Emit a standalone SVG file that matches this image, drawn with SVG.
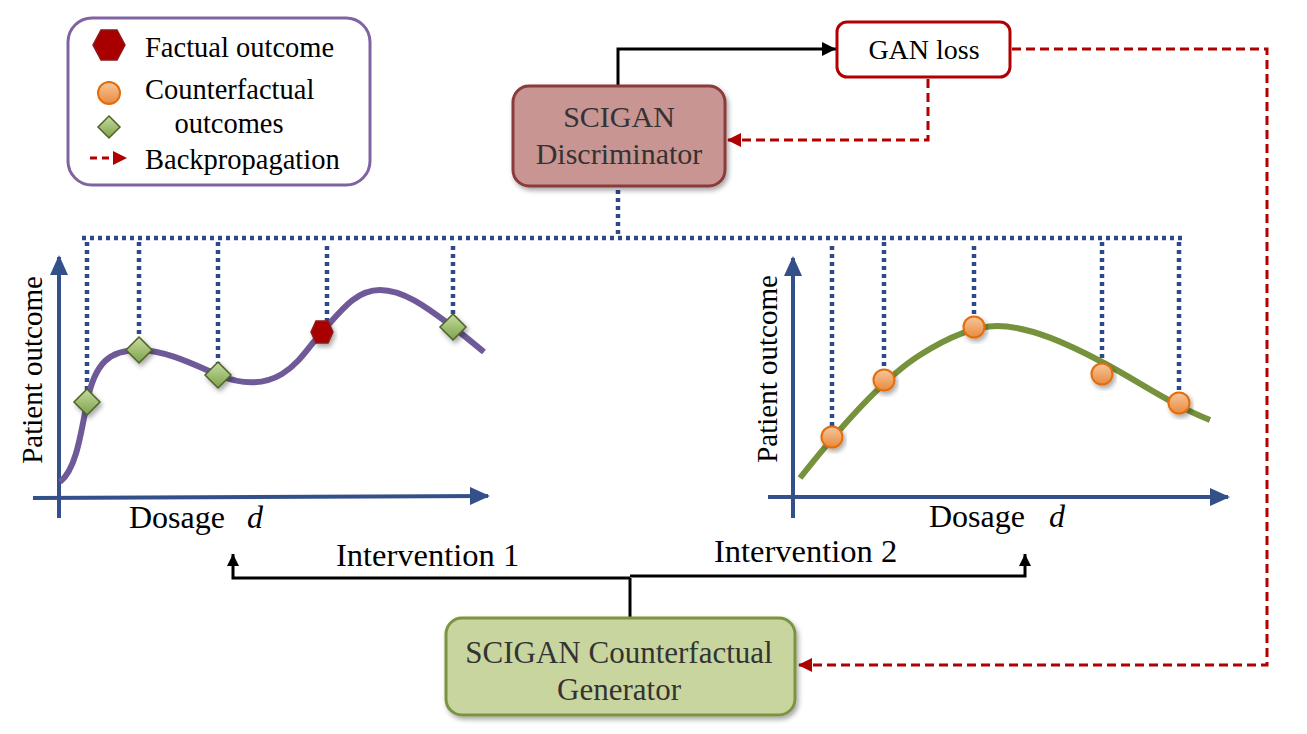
<svg xmlns="http://www.w3.org/2000/svg" width="1307" height="734" viewBox="0 0 1307 734">
<style>
.t{font-family:"Liberation Serif","Times New Roman",serif;fill:#000}
.bt{font-family:"Liberation Serif","Times New Roman",serif;fill:#333;text-anchor:middle}
.dot{fill:none;stroke:#2c4a85;stroke-width:4.5;stroke-dasharray:4 4}
.red{fill:none;stroke:#b00000;stroke-width:3;stroke-dasharray:9 5}
.blk{fill:none;stroke:#000;stroke-width:3}
.axis{fill:none;stroke:#34508a;stroke-width:4}
.dia{fill:url(#gDia);stroke:#4f6228;stroke-width:1.5}
.orc{fill:url(#gOr);stroke:#e46c0a;stroke-width:2}
.hex{fill:#a80000;stroke:#8b1a1a;stroke-width:1.5}
</style>
<defs>
<linearGradient id="gDia" x1="0" y1="0" x2="0" y2="1"><stop offset="0" stop-color="#c5dca0"/><stop offset="1" stop-color="#7ea24a"/></linearGradient>
<linearGradient id="gOr" x1="0" y1="0" x2="0" y2="1"><stop offset="0" stop-color="#f6c79e"/><stop offset="1" stop-color="#e88a3c"/></linearGradient>
<filter id="sh" x="-10%" y="-10%" width="130%" height="140%"><feDropShadow dx="2" dy="3" stdDeviation="2.5" flood-color="#000" flood-opacity="0.35"/></filter>
<marker id="aBlk" markerUnits="userSpaceOnUse" markerWidth="16" markerHeight="14" refX="14" refY="7" orient="auto"><path d="M0,0 L14,7 L0,14 z" fill="#000"/></marker>
<marker id="aBlkS" markerUnits="userSpaceOnUse" markerWidth="14" markerHeight="14" refX="12" refY="6" orient="auto"><path d="M0,0 L12,6 L0,12 z" fill="#000"/></marker>
<marker id="aRed" markerUnits="userSpaceOnUse" markerWidth="16" markerHeight="14" refX="13" refY="7" orient="auto"><path d="M0,0 L14,7 L0,14 z" fill="#b00000"/></marker>
<marker id="aAx" markerUnits="userSpaceOnUse" markerWidth="22" markerHeight="20" refX="18" refY="9" orient="auto"><path d="M0,0 L20,9 L0,18 z" fill="#34508a"/></marker>
</defs>

<g id="legend">
<rect x="68" y="18" width="302" height="167" rx="24" fill="#fff" stroke="#8064a2" stroke-width="3"/>
<polygon class="hex" points="93,45 101,30 117,30 125,45 117,60 101,60"/>
<circle class="orc" cx="109" cy="93" r="11"/>
<polygon class="dia" points="109,116 120,127 109,138 98,127"/>
<line x1="90" y1="158" x2="114" y2="158" stroke="#b00000" stroke-width="3" stroke-dasharray="7 5"/>
<path d="M113,151 L127,158 L113,165 z" fill="#b00000"/>
<text class="t" x="145" y="57" font-size="28.5">Factual outcome</text>
<text class="t" x="145" y="99" font-size="28.5">Counterfactual</text>
<text class="t" x="229" y="133" font-size="28.5" text-anchor="middle">outcomes</text>
<text class="t" x="145" y="169" font-size="28.5">Backpropagation</text>
</g>

<g id="connectors">
<polyline class="blk" points="618,86 618,49 836,49" marker-end="url(#aBlk)"/>
<polyline class="red" points="928,79 928,140 728,140" marker-end="url(#aRed)"/>
<polyline class="red" points="1012,49 1267,49 1267,665 799,665" marker-end="url(#aRed)"/>
<line class="blk" x1="630" y1="578" x2="630" y2="617"/>
<polyline class="blk" points="630,578 233,578 233,554" marker-end="url(#aBlkS)"/>
<polyline class="blk" points="630,576 1025,576 1025,554" marker-end="url(#aBlkS)"/>
<polyline class="dot" points="618,190 618,237"/>
<line class="dot" x1="82" y1="238" x2="1182" y2="238"/>
<line class="dot" x1="87" y1="242" x2="87" y2="390"/>
<line class="dot" x1="139" y1="242" x2="139" y2="340"/>
<line class="dot" x1="218" y1="242" x2="218" y2="363"/>
<line class="dot" x1="327" y1="246" x2="327" y2="322"/>
<line class="dot" x1="453" y1="246" x2="453" y2="316"/>
<line class="dot" x1="832" y1="246" x2="832" y2="427"/>
<line class="dot" x1="884" y1="242" x2="884" y2="370"/>
<line class="dot" x1="974" y1="246" x2="974" y2="316"/>
<line class="dot" x1="1102" y1="242" x2="1102" y2="363"/>
<line class="dot" x1="1179" y1="242" x2="1179" y2="392"/>
</g>

<g id="gan-loss">
<rect x="837" y="22" width="173" height="55" rx="10" fill="#fff" stroke="#b00000" stroke-width="3"/>
<text class="t" x="924" y="59" font-size="28" text-anchor="middle">GAN loss</text>
</g>

<g id="discriminator">
<rect x="513" y="86" width="212" height="100" rx="16" fill="#c89593" stroke="#8b3a3a" stroke-width="3" filter="url(#sh)"/>
<text class="bt" x="619" y="127" font-size="30">SCIGAN</text>
<text class="bt" x="619" y="164" font-size="30">Discriminator</text>
</g>

<g id="generator">
<rect x="446" y="618" width="349" height="97" rx="16" fill="#c8d59e" stroke="#7a9441" stroke-width="3" filter="url(#sh)"/>
<text class="bt" x="619" y="663" font-size="31">SCIGAN Counterfactual</text>
<text class="bt" x="619" y="700" font-size="31">Generator</text>
</g>

<g id="plot-intervention-1">
<line class="axis" x1="59" y1="518" x2="59" y2="257" marker-end="url(#aAx)"/>
<line class="axis" x1="33" y1="498" x2="488" y2="496" marker-end="url(#aAx)"/>
<path d="M60,482 C75,470 80,440 87,402 C95,362 110,350 139,350 C165,350 195,365 218,375 C240,384 262,386 282,374 C300,363 310,345 322,332 C340,312 355,290 380,290 C405,290 430,310 453,327 C466,337 474,344 484,352" fill="none" stroke="#6f5a99" stroke-width="6"/>
<polygon class="dia" points="87,389 100,402 87,415 74,402" filter="url(#sh)"/>
<polygon class="dia" points="139,337 152,350 139,363 126,350" filter="url(#sh)"/>
<polygon class="dia" points="218,362 231,375 218,388 205,375" filter="url(#sh)"/>
<polygon class="dia" points="453,314 466,327 453,340 440,327" filter="url(#sh)"/>
<polygon class="hex" points="311,332 316,321 328,321 333,332 328,343 316,343" filter="url(#sh)"/>
<text class="t" transform="translate(42,370) rotate(-90)" font-size="29" text-anchor="middle">Patient outcome</text>
<text class="t" x="129" y="528" font-size="32">Dosage</text>
<text class="t" x="247" y="528" font-size="32" font-style="italic">d</text>
</g>

<g id="plot-intervention-2">
<line class="axis" x1="793" y1="518" x2="793" y2="258" marker-end="url(#aAx)"/>
<line class="axis" x1="768" y1="497" x2="1228" y2="497" marker-end="url(#aAx)"/>
<path d="M800,478 C830,440 880,380 920,355 C950,336 975,326 997,326 C1030,326 1070,345 1102,362 C1140,382 1170,404 1210,420" fill="none" stroke="#76923c" stroke-width="6"/>
<circle class="orc" cx="832" cy="437" r="10.5" filter="url(#sh)"/>
<circle class="orc" cx="884" cy="380" r="10.5" filter="url(#sh)"/>
<circle class="orc" cx="974" cy="327" r="10.5" filter="url(#sh)"/>
<circle class="orc" cx="1102" cy="374" r="10.5" filter="url(#sh)"/>
<circle class="orc" cx="1179" cy="403" r="10.5" filter="url(#sh)"/>
<text class="t" transform="translate(777,369) rotate(-90)" font-size="29" text-anchor="middle">Patient outcome</text>
<text class="t" x="929" y="527" font-size="32">Dosage</text>
<text class="t" x="1049" y="527" font-size="32" font-style="italic">d</text>
</g>

<g id="labels">
<text class="t" x="336" y="566" font-size="32.5">Intervention 1</text>
<text class="t" x="714" y="562" font-size="32.5">Intervention 2</text>
</g>
</svg>
